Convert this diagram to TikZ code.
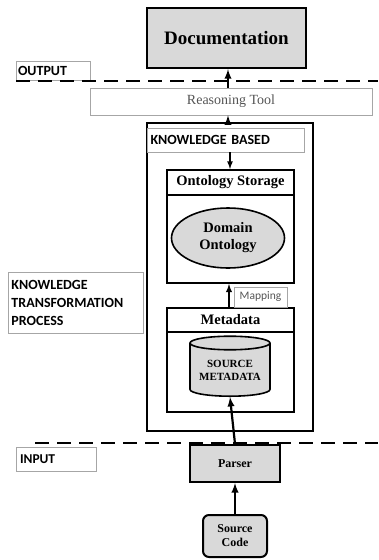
\documentclass[tikz,border=0pt]{standalone}
\usepackage{fontspec}
\setmainfont{Liberation Serif}
\newfontfamily\calibri{Carlito}
\usepackage{tikz}
\definecolor{gray200}{HTML}{D9D9D9}
\definecolor{gray400}{HTML}{A6A6A6}
\definecolor{gray700}{HTML}{555555}
\usetikzlibrary{arrows,shapes.geometric}
\tikzstyle{bloque}=[rectangle, draw=black, line width=2pt, inner sep=0pt]
\tikzstyle{grisbloque}=[bloque, fill=gray200]
\tikzstyle{etiqueta}=[rectangle, draw=gray400, line width=0.8pt, inner sep=0pt, font=\calibri\bfseries\fontsize{14}{18}\selectfont]
\tikzstyle{flecha}=[-latex, line width=2.2pt]
\tikzstyle{limite}=[line width=2.6pt, dash pattern=on 14pt off 8pt]

\begin{document}
\begin{tikzpicture}[x=1pt, y=-1pt]
			\useasboundingbox (0,0) rectangle (378,560);
			% salida
			\node[grisbloque, line width=2.4pt, minimum width=159pt, minimum height=60pt, font=\bfseries\fontsize{19}{22}\selectfont] (doc) at (226.5,38) {Documentation};
			\node[etiqueta, minimum width=74pt, minimum height=19pt, text width=70pt, align=left] (output) at (53,71) {OUTPUT};
			\coordinate (out1) at (16,81);
			\coordinate (out2) at (378,81);
			\draw[limite] (out1)--(out2);
			\node[etiqueta, minimum width=282pt, minimum height=27pt, font=\fontsize{14}{16}\selectfont, text=gray700] (rt) at (231,101.5) {Reasoning Tool};
			% base de conocimiento
			\node[bloque, line width=2.4pt, minimum width=166pt, minimum height=308pt] (kb) at (230,277) {};
			\node[etiqueta, minimum width=157pt, minimum height=24pt, text width=150pt, align=left] (kbl) at (225.5,140) {KNOWLEDGE BASED};
			\node[bloque, minimum width=127pt, minimum height=25pt, font=\bfseries\fontsize{14.5}{16}\selectfont] (oshead) at (230.5,182.5) {Ontology Storage};
			\node[bloque, minimum width=127pt, minimum height=88pt] (osbody) at (230.5,239) {};
			\node[ellipse, draw=black, line width=1.6pt, fill=gray200, minimum width=113pt, minimum height=60pt, inner sep=0pt, align=center, font=\bfseries\fontsize{14.5}{17}\selectfont] (dom) at (228,238) {Domain\\Ontology};
			\node[bloque, minimum width=127pt, minimum height=24pt, font=\bfseries\fontsize{14.5}{16}\selectfont] (mdhead) at (230.5,320) {Metadata};
			\node[bloque, minimum width=127pt, minimum height=80pt] (mdbody) at (230.5,372) {};
			\node[cylinder, shape border rotate=90, aspect=0.22, draw=black, line width=1.6pt, fill=gray200, minimum width=80pt, minimum height=60pt, inner sep=0pt, align=center, font=\bfseries\fontsize{11}{13}\selectfont] (smd) at (230,370) {SOURCE\\METADATA};
			\node[etiqueta, minimum width=53pt, minimum height=20pt, font=\calibri\fontsize{11.5}{13}\selectfont, text=gray700] (map) at (260.5,297) {Mapping};
			\node[etiqueta, minimum width=135pt, minimum height=61pt, text width=128pt, align=left] (ktp) at (75.5,302.5) {KNOWLEDGE\\TRANSFORMATION\\PROCESS};
			% entrada
			\coordinate (in1) at (35,443);
			\coordinate (in2) at (378,443);
			\draw[limite] (in1)--(in2);
			\node[etiqueta, minimum width=80pt, minimum height=24pt, text width=72pt, align=left, font=\calibri\bfseries\fontsize{13.5}{16}\selectfont] (input) at (56,459) {INPUT};
			\node[grisbloque, line width=2.2pt, minimum width=90pt, minimum height=37pt, font=\bfseries\fontsize{12}{14}\selectfont] (parser) at (235,463.5) {Parser};
			\node[grisbloque, rounded corners=6pt, minimum width=64pt, minimum height=42pt, align=center, font=\bfseries\fontsize{12}{14}\selectfont] (src) at (235,536) {Source\\Code};
			% flechas
			\draw[flecha] (rt.north -| 228,0)--(doc.south -| 228,0);
			\draw[flecha] (kb.north -| 228,0)--(rt.south -| 228,0);
			\draw[-latex, line width=1.6pt] (kbl.south -| 230,0)--(oshead.north -| 230,0);
			\draw[flecha, line width=1.8pt] (mdhead.north -| 229,0)--(osbody.south -| 229,0);
			\draw[flecha] (parser.north -| 235,0)--(smd.south);
			\draw[flecha] (src.north)--(parser.south);
		\end{tikzpicture}
\end{document}
